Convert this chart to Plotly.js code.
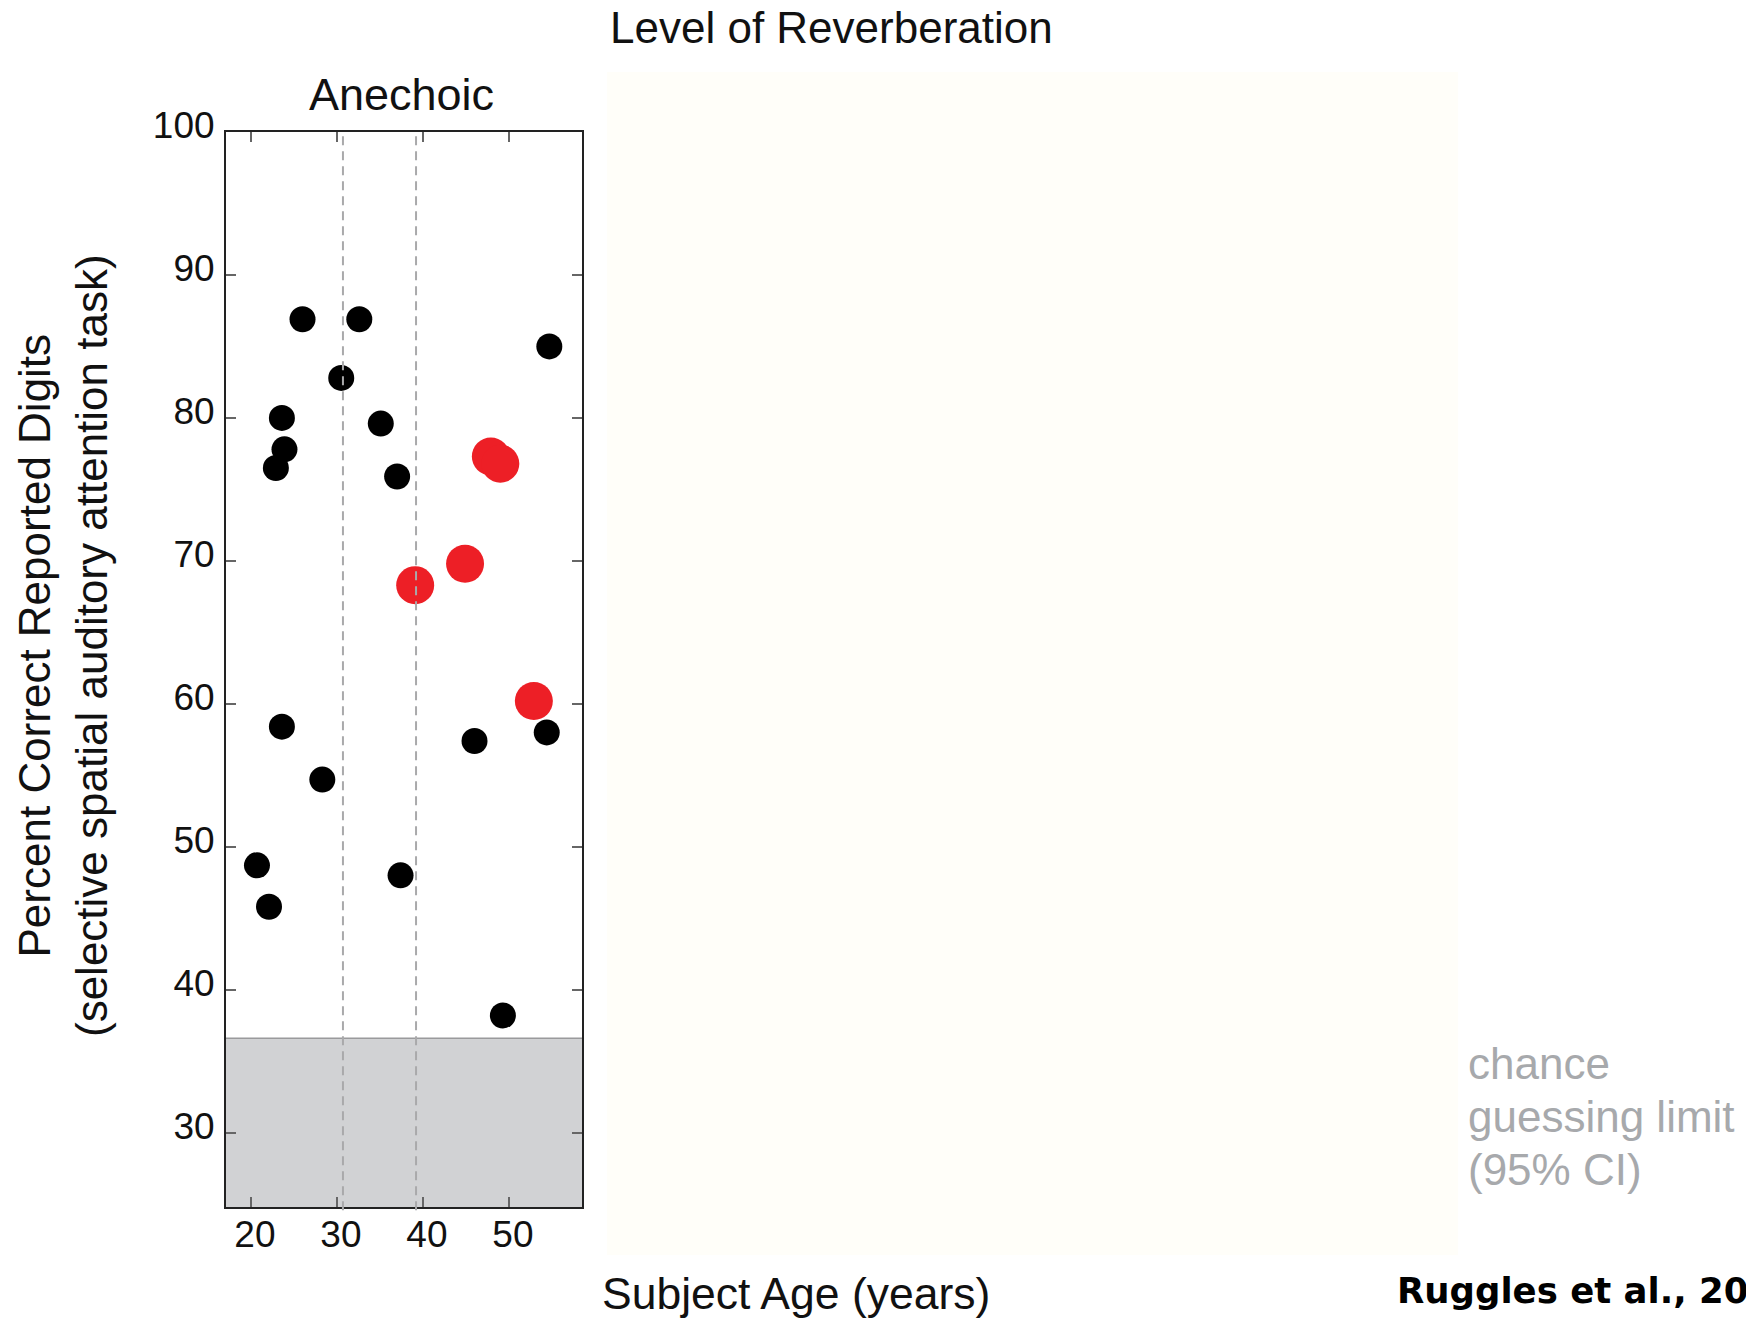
<!DOCTYPE html>
<html>
<head>
<meta charset="utf-8">
<script src="https://cdn.plot.ly/plotly-3.0.1.min.js"></script>
<style>html,body{margin:0;padding:0;background:#fff;}#chart{width:1746px;height:1319px;}</style>
</head>
<body>
<div id="chart"></div>
<script>
// ---- data ----
const blackAge   = [26.0, 32.6, 54.7, 30.5, 23.6, 35.1, 23.9, 22.9, 37.0, 23.6, 46.0, 54.4, 28.3, 20.7, 37.4, 22.1, 49.3];
const blackScore = [86.9, 86.9, 85.0, 82.8, 80.0, 79.6, 77.8, 76.5, 75.9, 58.4, 57.4, 58.0, 54.7, 48.7, 48.0, 45.8, 38.2];
const redAge     = [47.9, 49.0, 39.1, 44.9, 52.9];
const redScore   = [77.3, 76.8, 68.3, 69.8, 60.2];
const chanceLimit = 36.6;
const ageCutoffs = [30.7, 39.2];
const xTicks = [20, 30, 40, 50];
const yTicks = [30, 40, 50, 60, 70, 80, 90, 100];

// ---- layout helpers (pixel -> paper) ----
const L = 226, R = 582, T = 132, B = 1207;
const PX = p => (p - L) / (R - L);
const PY = p => (B - p) / (B - T);

const FONT = 'Liberation Sans, Arial, sans-serif';

const traces = [
  {x: blackAge, y: blackScore, type: 'scatter', mode: 'markers',
   marker: {color: '#000000', size: 26, line: {width: 0}}, hoverinfo: 'x+y'},
  {x: redAge, y: redScore, type: 'scatter', mode: 'markers',
   marker: {color: '#ed1f26', size: 38, line: {width: 0}}, hoverinfo: 'x+y'}
];

const shapes = [
  {type: 'rect', xref: 'paper', yref: 'paper', x0: PX(607), x1: PX(1458), y0: PY(1255), y1: PY(72),
   fillcolor: '#fffef9', line: {width: 0}, layer: 'below'},
  {type: 'rect', xref: 'paper', yref: 'y', x0: 0, x1: 1, y0: 24.8, y1: chanceLimit,
   fillcolor: '#d1d2d4', line: {width: 0}, layer: 'below'},
  {type: 'line', xref: 'paper', yref: 'y', x0: 0, x1: 1, y0: chanceLimit, y1: chanceLimit,
   line: {color: '#9a9a9c', width: 1.5}, layer: 'below'}
];
ageCutoffs.forEach(a => shapes.push({
  type: 'line', xref: 'x', yref: 'paper', x0: a, x1: a, y0: -0.003, y1: 1,
  line: {color: '#a9a9ab', width: 2, dash: '9px,6px'}, layer: 'above'
}));

const annotations = [
  {text: 'Level of Reverberation', xref: 'paper', yref: 'paper', x: PX(831), y: PY(28),
   xanchor: 'center', yanchor: 'middle', showarrow: false, font: {family: FONT, size: 44, color: '#111'}},
  {text: 'Anechoic', xref: 'paper', yref: 'paper', x: PX(401), y: PY(94),
   xanchor: 'center', yanchor: 'middle', showarrow: false, font: {family: FONT, size: 45, color: '#111'}},
  {text: 'Subject Age (years)', xref: 'paper', yref: 'paper', x: PX(796), y: PY(1293),
   xanchor: 'center', yanchor: 'middle', showarrow: false, font: {family: FONT, size: 44.5, color: '#111'}},
  {text: 'Percent Correct Reported Digits<br>(selective spatial auditory attention task)',
   xref: 'paper', yref: 'paper', x: PX(63), y: PY(646), textangle: -90,
   xanchor: 'center', yanchor: 'middle', showarrow: false, font: {family: FONT, size: 44, color: '#111'}},
  {text: 'chance', xref: 'paper', yref: 'paper', x: PX(1466), y: PY(1063),
   xanchor: 'left', yanchor: 'middle', showarrow: false, font: {family: FONT, size: 44, color: '#a7a9ac'}},
  {text: 'guessing limit', xref: 'paper', yref: 'paper', x: PX(1466), y: PY(1116),
   xanchor: 'left', yanchor: 'middle', showarrow: false, font: {family: FONT, size: 44, color: '#a7a9ac'}},
  {text: '(95% CI)', xref: 'paper', yref: 'paper', x: PX(1466), y: PY(1169),
   xanchor: 'left', yanchor: 'middle', showarrow: false, font: {family: FONT, size: 44, color: '#a7a9ac'}},
  {text: '<b>Ruggles et al., 20</b>', xref: 'paper', yref: 'paper', x: PX(1395), y: PY(1290),
   xanchor: 'left', yanchor: 'middle', showarrow: false, font: {family: 'DejaVu Sans, Verdana, sans-serif', size: 35.5, color: '#000'}}
];

const axisCommon = {
  showline: true, linecolor: '#222', linewidth: 2, mirror: 'ticks',
  ticks: 'inside', ticklen: 10, tickwidth: 2, tickcolor: '#666',
  showgrid: false, zeroline: false,
  tickfont: {family: FONT, size: 37, color: '#111'}
};

const layout = {
  width: 1746, height: 1319, autosize: false,
  margin: {l: L, r: 1746 - R, t: T, b: 1319 - B, pad: 0},
  paper_bgcolor: '#ffffff', plot_bgcolor: '#ffffff',
  showlegend: false,
  xaxis: Object.assign({}, axisCommon, {range: [17.1, 58.5], tickmode: 'array', tickvals: xTicks,
    ticktext: xTicks.map(String), ticklabelshift: 4, ticklabelstandoff: -6}),
  yaxis: Object.assign({}, axisCommon, {range: [24.8, 100], tickmode: 'array', tickvals: yTicks,
    ticktext: yTicks.map(String), ticklabelshift: -7, ticklabelstandoff: 2}),
  shapes: shapes,
  annotations: annotations
};

Plotly.newPlot('chart', traces, layout, {displayModeBar: false, staticPlot: true});
</script>
</body>
</html>
